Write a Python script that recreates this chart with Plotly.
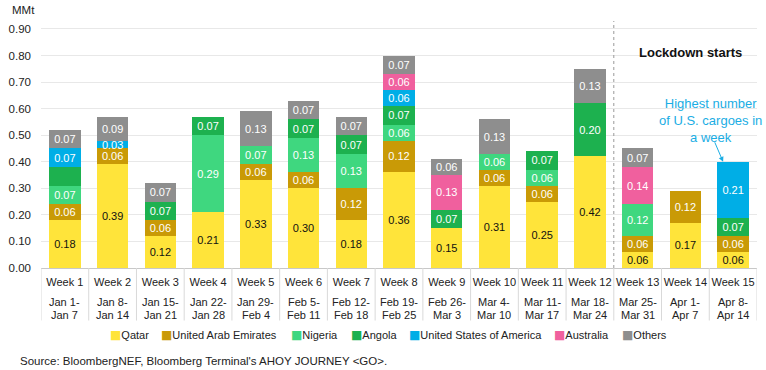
import plotly.graph_objects as go

# ---------------- data ----------------
weeks = ["Week 1", "Week 2", "Week 3", "Week 4", "Week 5", "Week 6", "Week 7", "Week 8",
         "Week 9", "Week 10", "Week 11", "Week 12", "Week 13", "Week 14", "Week 15"]
date_from = ["Jan 1-", "Jan 8-", "Jan 15-", "Jan 22-", "Jan 29-", "Feb 5-", "Feb 12-", "Feb 19-",
             "Feb 26-", "Mar 4-", "Mar 11-", "Mar 18-", "Mar 25-", "Apr 1-", "Apr 8-"]
date_to = ["Jan 7", "Jan 14", "Jan 21", "Jan 28", "Feb 4", "Feb 11", "Feb 18", "Feb 25",
           "Mar 3", "Mar 10", "Mar 17", "Mar 24", "Mar 31", "Apr 7", "Apr 14"]

qatar = [0.18, 0.39, 0.12, 0.21, 0.33, 0.30, 0.18, 0.36, 0.15, 0.31, 0.25, 0.42, 0.06, 0.17, 0.06]
uae = [0.06, 0.06, 0.06, None, 0.06, 0.06, 0.12, 0.12, None, 0.06, 0.06, None, 0.06, 0.12, 0.06]
nigeria = [0.07, None, None, 0.29, 0.07, 0.13, 0.13, 0.06, None, 0.06, 0.06, None, 0.12, None, None]
angola = [0.07, None, 0.07, 0.07, None, 0.07, 0.07, 0.07, 0.07, None, 0.07, 0.20, None, None, 0.07]
usa = [0.07, 0.03, None, None, None, None, None, 0.06, None, None, None, None, None, None, 0.21]
australia = [None, None, None, None, None, None, None, 0.06, 0.13, None, None, None, 0.14, None, None]
others = [0.07, 0.09, 0.07, None, 0.13, 0.07, 0.07, 0.07, 0.06, 0.13, None, 0.13, 0.07, None, None]

series_names = ["Qatar", "United Arab Emirates", "Nigeria", "Angola",
                "United States of America", "Australia", "Others"]
series_values = [qatar, uae, nigeria, angola, usa, australia, others]
series_colors = ["#FFE43A", "#C99A06", "#3FD77F", "#1DB14F", "#00AEE6", "#F0609E", "#8E8E8E"]
label_colors = ["#111111", "white", "white", "white", "white", "white", "white"]
# segments drawn without a value label in the original (series index, week index)
unlabelled = {(3, 0)}

FONT = "Liberation Sans, Arial, sans-serif"

fig = go.Figure()
xs = list(range(len(weeks)))
for si, (name, vals, col, lcol) in enumerate(zip(series_names, series_values, series_colors, label_colors)):
    texts = ["" if (v is None or (si, wi) in unlabelled) else f"{v:.2f}" for wi, v in enumerate(vals)]
    fig.add_trace(go.Bar(
        x=xs, y=vals, name=name, marker=dict(color=col, line=dict(width=0)),
        text=texts, textposition="inside", insidetextanchor="middle", textangle=0,
        textfont=dict(color=lcol, size=11, family=FONT), showlegend=False,
        hoverinfo="skip",
    ))

# bottom labels and separators
y_of = lambda px: (267.5 - px) / 247.0
for i in xs:
    fig.add_annotation(x=i, y=y_of(301), xref="x", yref="paper", text=date_from[i], showarrow=False,
                       font=dict(size=11, color="#222", family=FONT), yanchor="middle")
    fig.add_annotation(x=i, y=y_of(314), xref="x", yref="paper", text=date_to[i], showarrow=False,
                       font=dict(size=11, color="#222", family=FONT), yanchor="middle")
for i in range(len(weeks) + 1):
    fig.add_shape(type="line", x0=i - 0.5, x1=i - 0.5, xref="x", yref="paper", y0=0, y1=y_of(320),
                  line=dict(color="#D9D9D9", width=1))

# lockdown divider
fig.add_shape(type="line", x0=11.5, x1=11.5, xref="x", yref="paper", y0=0, y1=1,
              line=dict(color="#999999", width=1, dash="dot"))
fig.add_annotation(x=13.1, y=y_of(42), xref="x", yref="paper", text="<b>Lockdown starts</b>",
                   showarrow=False, font=dict(size=13, color="#111", family=FONT))

# US annotation
us_total = sum(v for v in (s[14] for s in series_values) if v is not None)
fig.add_annotation(x=13.52, y=y_of(120), xref="x", yref="paper",
                   text="Highest number<br>of U.S. cargoes in<br>a week", showarrow=False,
                   font=dict(size=13, color="#1AADE4", family=FONT))
fig.add_annotation(x=13.79, y=us_total, xref="x", yref="y", text="", showarrow=True,
                   ax=-9, ay=-21, arrowhead=2, arrowsize=1, arrowwidth=1, arrowcolor="#1AADE4")

# custom legend
legend_x_px = [103, 155, 286, 346, 405, 551, 619]
for name, col, px in zip(series_names, series_colors, legend_x_px):
    fig.add_annotation(x=(px - 36) / 721.0, y=y_of(334), xref="paper", yref="paper",
                       xanchor="left", yanchor="middle", showarrow=False,
                       text=(f"<span style='color:{col};font-family:DejaVu Sans;font-size:12px'>■</span>"
                             f"{name}"),
                       font=dict(size=11, color="#222", family=FONT))

# unit label and source
fig.add_annotation(x=(5 - 36) / 721.0, y=y_of(9), xref="paper", yref="paper", xanchor="left",
                   yanchor="middle", text="MMt", showarrow=False,
                   font=dict(size=11.5, color="#222", family=FONT))
fig.add_annotation(x=(13 - 36) / 721.0, y=y_of(360), xref="paper", yref="paper", xanchor="left",
                   yanchor="middle", text="Source: BloombergNEF, Bloomberg Terminal's AHOY JOURNEY &lt;GO&gt;.",
                   showarrow=False, font=dict(size=11.5, color="#222", family=FONT))

fig.update_layout(
    width=766, height=370, barmode="stack", bargap=0.34,
    margin=dict(l=36, r=9, t=21, b=102),
    plot_bgcolor="white", paper_bgcolor="white",
    font=dict(family=FONT, size=11, color="#222"),
    uniformtext=dict(minsize=11, mode="show"),
    xaxis=dict(range=[-0.5, 14.5], tickmode="array", tickvals=xs, ticktext=weeks,
               showgrid=False, zeroline=False, showline=False, ticks="", ticklabelstandoff=6,
               tickfont=dict(size=11, color="#222", family=FONT), fixedrange=True),
    yaxis=dict(range=[0, 0.93], tickmode="array", tickvals=[i / 10 for i in range(10)],
               tickformat=".2f", showgrid=True, gridcolor="#E8E8E8", gridwidth=1,
               zeroline=True, zerolinecolor="#C8C8C8", zerolinewidth=1,
               ticks="", ticklabelstandoff=9,
               tickfont=dict(size=11.5, color="#222", family=FONT), fixedrange=True),
)

fig.write_html("out.html", config={"displayModeBar": False},
               post_script="document.body.style.margin='0px';")
